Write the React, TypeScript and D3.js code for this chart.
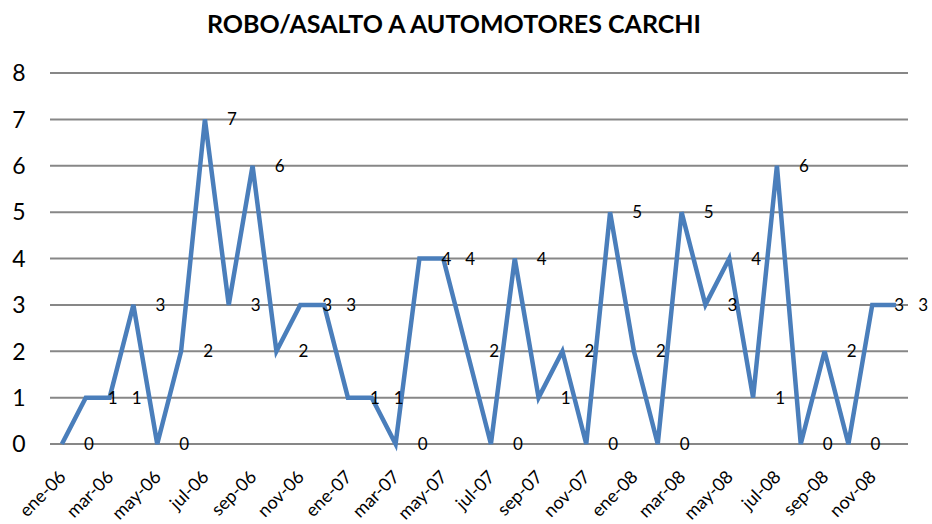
import React from 'react';
import * as d3 from 'd3';

const months = ['ene', 'feb', 'mar', 'abr', 'may', 'jun', 'jul', 'ago', 'sep', 'oct', 'nov', 'dic'];
const years = ['06', '07', '08'];
const categories = years.flatMap((y) => months.map((m) => `${m}-${y}`));

const values = [
    0, 1, 1, 3, 0, 2, 7, 3, 6, 2, 3, 3,
    1, 1, 0, 4, 4, 2, 0, 4, 1, 2, 0, 5,
    2, 0, 5, 3, 4, 1, 6, 0, 2, 0, 3, 3,
];

const yTicks = [0, 1, 2, 3, 4, 5, 6, 7, 8];

const title = 'ROBO/ASALTO A AUTOMOTORES CARCHI';

const font = 'Lato, "Open Sans", sans-serif';

export default function App() {
    const width = 932, height = 524;
    const left = 50, right = 908, top = 73, bottom = 444;

    const scaleX = d3.scalePoint<string>()
                    .domain(categories)
                    .range([left, right])
                    .padding(0.5);

    const scaleY = d3.scaleLinear()
                    .domain([0, 8])
                    .range([bottom, top]);

    const line = d3.line<number>()
                    .x((v, i) => scaleX(categories[i]) as number)
                    .y((v) => scaleY(v));

    return (
        <svg width={width} height={height} xmlns="http://www.w3.org/2000/svg"
             style={{position: 'absolute', left: 0, top: 0, background: '#fff'}}>
            <text x={454} y={33} textAnchor="middle" fontFamily={font} fontWeight="bold" fontSize={25} fill="#000">{title}</text>
            {yTicks.map((v) =>
                <g key={`grid_${v}`}>
                    <line x1={left} x2={right} y1={scaleY(v)} y2={scaleY(v)} stroke="#878787" strokeWidth={2} />
                    <text x={19} y={scaleY(v)} dy="0.36em" textAnchor="middle" fontFamily={font} fontSize={23} fill="#000">{v}</text>
                </g>
            )}
            <path d={line(values) || ''} fill="none" stroke="#4a7ebb" strokeWidth={4.5} strokeLinejoin="miter" />
            {values.map((v, i) =>
                <text key={`lab_${i}`} x={(scaleX(categories[i]) as number) + 27} y={scaleY(v)} dy="0.36em"
                      textAnchor="middle" fontFamily={font} fontSize={17} fill="#000">{v}</text>
            )}
            {categories.filter((c, i) => i % 2 === 0).map((c) =>
                <text key={`tick_${c}`} textAnchor="end" fontFamily={font} fontSize={18} fill="#000"
                      transform={`translate(${(scaleX(c) as number) + 5}, ${478}) rotate(-45)`}>{c}</text>
            )}
        </svg>
    );
}
